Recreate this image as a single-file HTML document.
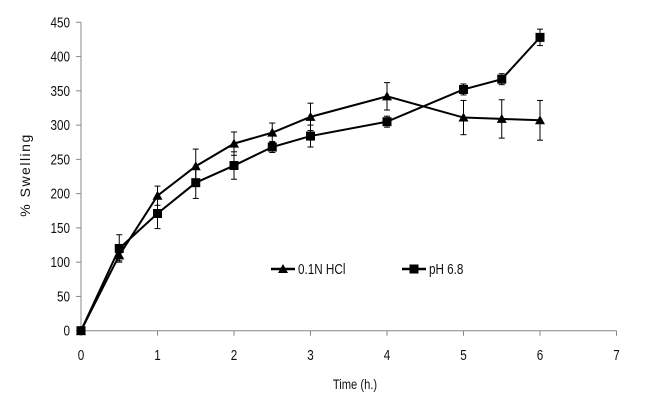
<!DOCTYPE html>
<html><head><meta charset="utf-8"><style>
html,body{margin:0;padding:0;background:#fff;}
svg{display:block;font-family:"Liberation Sans",sans-serif;}
</style></head><body>
<svg id="chart" width="646" height="408" viewBox="0 0 646 408"></svg>
<script>
const xTicks=[0,1,2,3,4,5,6,7];
const yTicks=[0,50,100,150,200,250,300,350,400,450];
const times=[0,0.5,1,1.5,2,2.5,3,4,5,5.5,6];
const hclValues=[0,110,197,240,273,289,312,342,311,309,307];
const hclErrors=[0,8,14,25,17,14,20,20,25,28,29];
const phValues=[0,120,171,216,241,268,284,305,352,367,428];
const phErrors=[0,20,22,23,20,8,16,8,8,8,12];
const NS='http://www.w3.org/2000/svg';
const svg=document.getElementById('chart');
const X=v=>81+v*76.5;
const Y=v=>330.7-v*(308.4/450);
function mk(t,a,p){const e=document.createElementNS(NS,t);for(const k in a)e.setAttribute(k,a[k]);(p||svg).appendChild(e);return e;}
let ax=mk('line',{x1:X(0),y1:Y(0),x2:X(7),y2:Y(0),stroke:'#888','stroke-width':1});


let ay=mk('line',{x1:X(0),y1:Y(0),x2:X(0),y2:Y(450),stroke:'#888','stroke-width':1});


xTicks.forEach(t=>{
  mk('line',{x1:X(t),y1:Y(0),x2:X(t),y2:Y(0)+5,stroke:'#888'});
  const tx=mk('text',{x:X(t),y:360,'text-anchor':'middle','font-size':15,fill:'#111',transform:`translate(${X(t)} 0) scale(0.78 1) translate(${-X(t)} 0)`});
  tx.textContent=t;
  
  
});
yTicks.forEach(t=>{
  mk('line',{x1:X(0)-5,y1:Y(t),x2:X(0),y2:Y(t),stroke:'#888'});
  const tx=mk('text',{x:70,y:Y(t)+5,'text-anchor':'end','font-size':15,fill:'#111',transform:`translate(70 0) scale(0.78 1) translate(-70 0)`});
  tx.textContent=t;
  
  
});
let yt=mk('text',{x:0,y:0,'text-anchor':'middle','font-size':14,fill:'#111','letter-spacing':'1.5',transform:'translate(30 175) rotate(-90)'});
yt.textContent='% Swelling';


let xt=mk('text',{x:355,y:389,'text-anchor':'middle','font-size':14,fill:'#111',transform:'translate(355 0) scale(0.8 1) translate(-355 0)'});
xt.textContent='Time (h.)';


function marker(x,y,kind,g){
  if(kind==='tri') mk('polygon',{points:`${x},${y-5} ${x-5},${y+4} ${x+5},${y+4}`,fill:'#000'},g);
  else mk('rect',{x:x-4.5,y:y-4.5,width:9,height:9,fill:'#000'},g);
}
function series(vals,errs,kind,name){
  const g=mk('g',{});
  
  
  mk('polyline',{points:times.map((t,i)=>X(t)+','+Y(vals[i])).join(' '),fill:'none',stroke:'#000','stroke-width':2},g);
  times.forEach((t,i)=>{
    if(errs[i]>0){
      const x=X(t),y1=Y(vals[i]-errs[i]),y2=Y(vals[i]+errs[i]);
      mk('line',{x1:x,y1:y1,x2:x,y2:y2,stroke:'#000','stroke-width':1},g);
      mk('line',{x1:x-3,y1:y1,x2:x+3,y2:y1,stroke:'#000','stroke-width':1},g);
      mk('line',{x1:x-3,y1:y2,x2:x+3,y2:y2,stroke:'#000','stroke-width':1},g);
    }
    marker(X(t),Y(vals[i]),kind,g);
  });
}
series(hclValues,hclErrors,'tri','series-0-1n-hcl');
series(phValues,phErrors,'sq','series-ph-6-8');
function legend(x,label,kind,name){
  const g=mk('g',{});
  
  
  mk('line',{x1:x,y1:269,x2:x+24,y2:269,stroke:'#000','stroke-width':2.5},g);
  marker(x+12,269,kind,g);
  const t=mk('text',{x:x+27,y:274,'font-size':15,fill:'#111',transform:`translate(${x+27} 0) scale(0.78 1) translate(${-(x+27)} 0)`},g);
  t.textContent=label;
}
legend(271,'0.1N HCl','tri','legend-entry-hcl');
legend(402,'pH 6.8','sq','legend-entry-ph');
</script>
</body></html>
